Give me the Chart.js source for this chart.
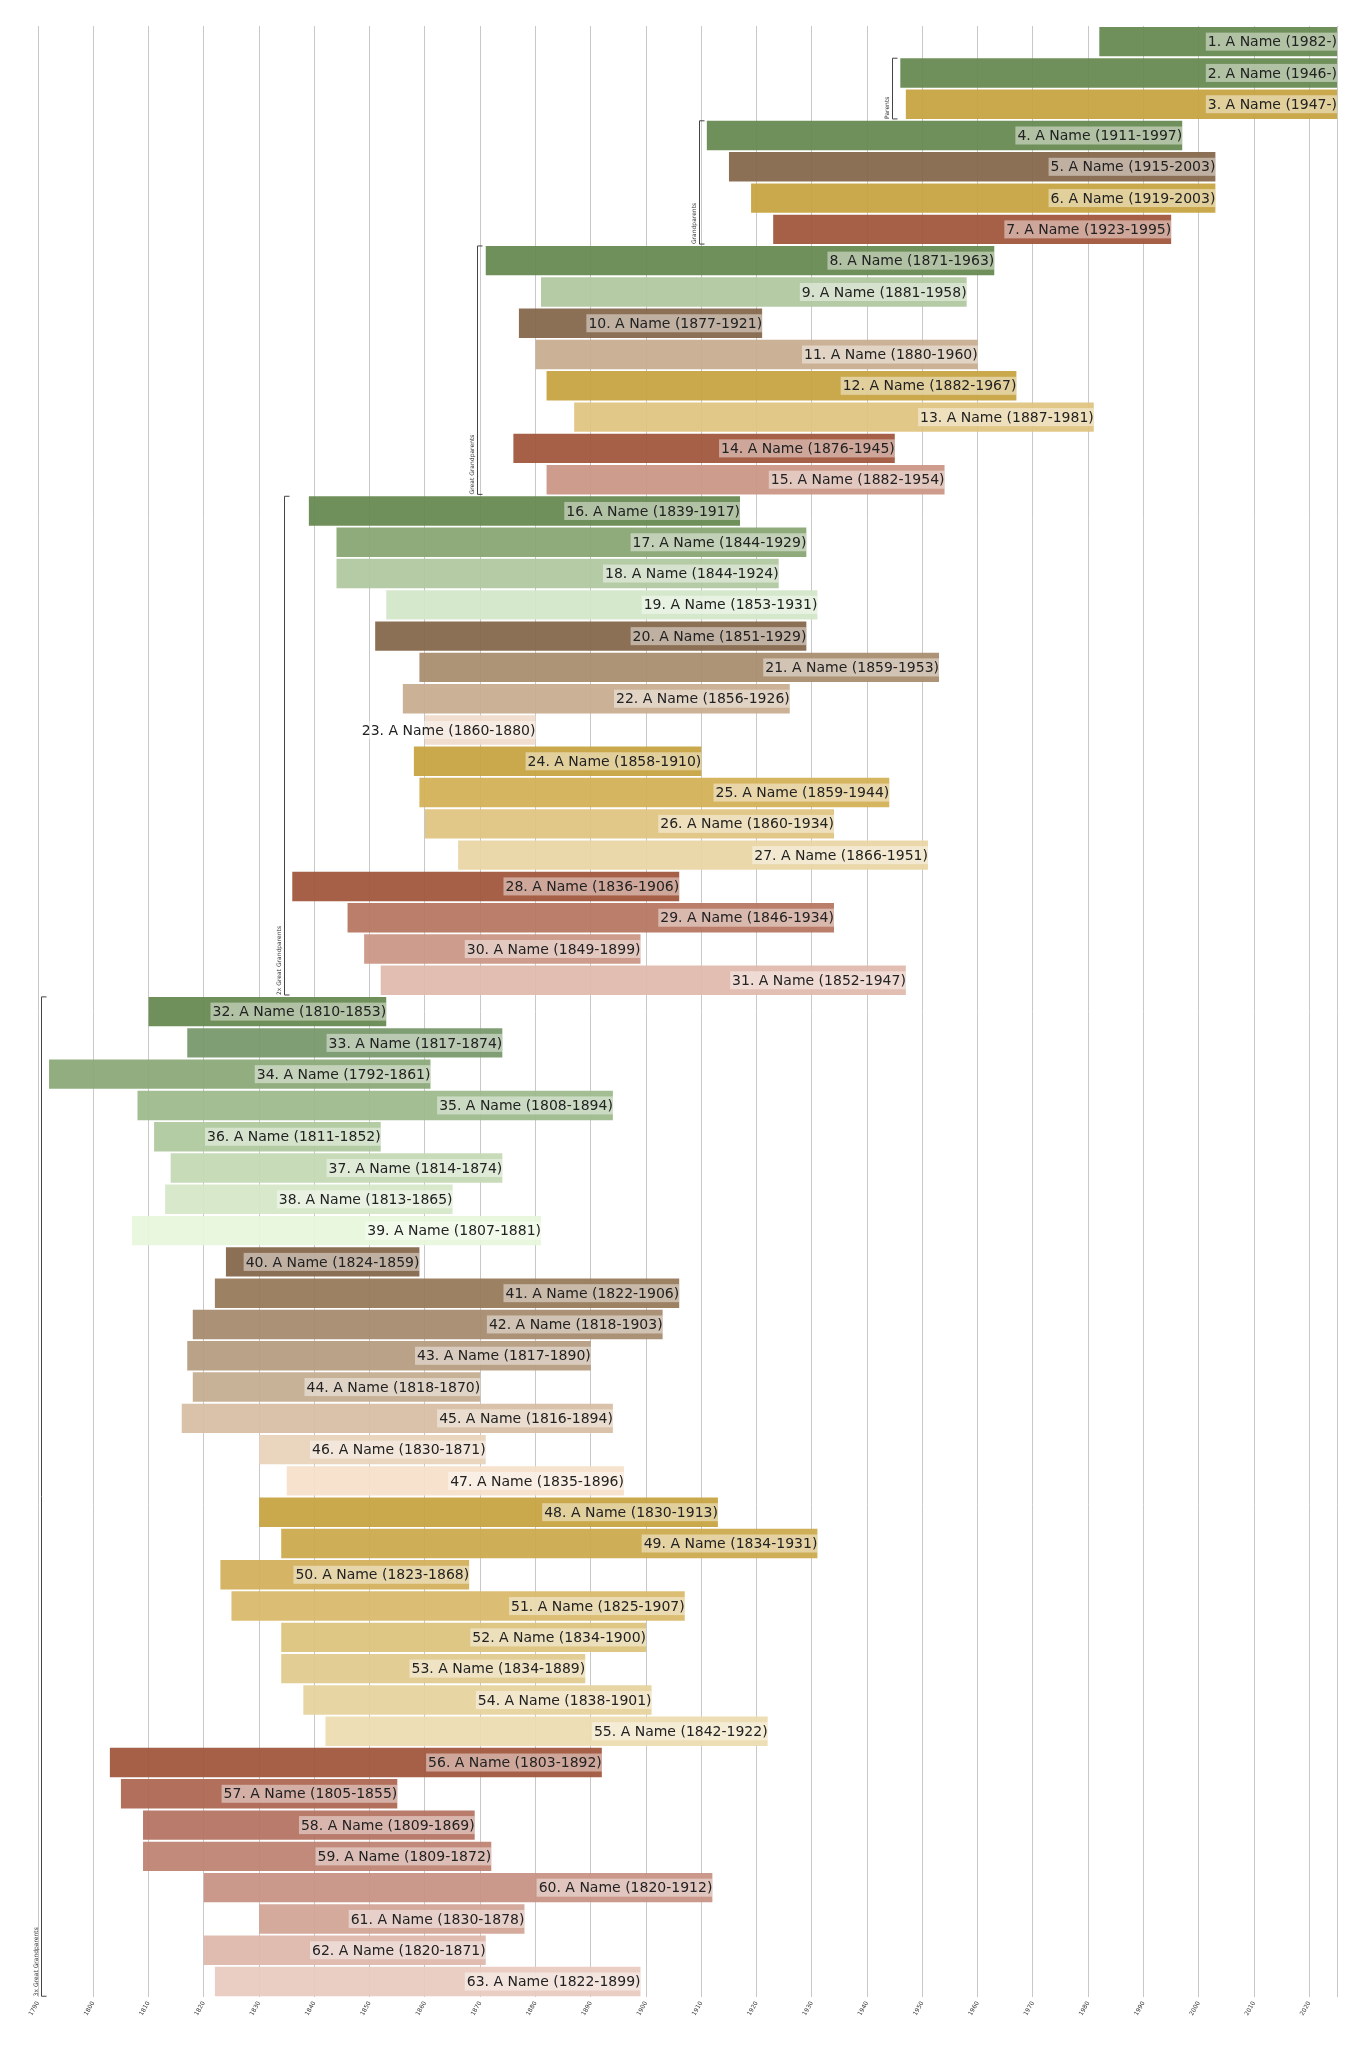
<!DOCTYPE html>
<html>
<head>
<meta charset="utf-8">
<script src="https://cdn.jsdelivr.net/npm/chart.js@4.4.1/dist/chart.umd.min.js"></script>
<style>
  body { margin: 0; background: #fff; }
  #wrap { width: 1365px; height: 2048px; }
</style>
</head>
<body>
<div id="wrap"><canvas id="tree"></canvas></div>
<script>
// Datos del árbol (año final 2025 = persona viva)
const names = ["1. A Name (1982-)", "2. A Name (1946-)", "3. A Name (1947-)", "4. A Name (1911-1997)", "5. A Name (1915-2003)", "6. A Name (1919-2003)", "7. A Name (1923-1995)", "8. A Name (1871-1963)", "9. A Name (1881-1958)", "10. A Name (1877-1921)", "11. A Name (1880-1960)", "12. A Name (1882-1967)", "13. A Name (1887-1981)", "14. A Name (1876-1945)", "15. A Name (1882-1954)", "16. A Name (1839-1917)", "17. A Name (1844-1929)", "18. A Name (1844-1924)", "19. A Name (1853-1931)", "20. A Name (1851-1929)", "21. A Name (1859-1953)", "22. A Name (1856-1926)", "23. A Name (1860-1880)", "24. A Name (1858-1910)", "25. A Name (1859-1944)", "26. A Name (1860-1934)", "27. A Name (1866-1951)", "28. A Name (1836-1906)", "29. A Name (1846-1934)", "30. A Name (1849-1899)", "31. A Name (1852-1947)", "32. A Name (1810-1853)", "33. A Name (1817-1874)", "34. A Name (1792-1861)", "35. A Name (1808-1894)", "36. A Name (1811-1852)", "37. A Name (1814-1874)", "38. A Name (1813-1865)", "39. A Name (1807-1881)", "40. A Name (1824-1859)", "41. A Name (1822-1906)", "42. A Name (1818-1903)", "43. A Name (1817-1890)", "44. A Name (1818-1870)", "45. A Name (1816-1894)", "46. A Name (1830-1871)", "47. A Name (1835-1896)", "48. A Name (1830-1913)", "49. A Name (1834-1931)", "50. A Name (1823-1868)", "51. A Name (1825-1907)", "52. A Name (1834-1900)", "53. A Name (1834-1889)", "54. A Name (1838-1901)", "55. A Name (1842-1922)", "56. A Name (1803-1892)", "57. A Name (1805-1855)", "58. A Name (1809-1869)", "59. A Name (1809-1872)", "60. A Name (1820-1912)", "61. A Name (1830-1878)", "62. A Name (1820-1871)", "63. A Name (1822-1899)"];
const births = [1982, 1946, 1947, 1911, 1915, 1919, 1923, 1871, 1881, 1877, 1880, 1882, 1887, 1876, 1882, 1839, 1844, 1844, 1853, 1851, 1859, 1856, 1860, 1858, 1859, 1860, 1866, 1836, 1846, 1849, 1852, 1810, 1817, 1792, 1808, 1811, 1814, 1813, 1807, 1824, 1822, 1818, 1817, 1818, 1816, 1830, 1835, 1830, 1834, 1823, 1825, 1834, 1834, 1838, 1842, 1803, 1805, 1809, 1809, 1820, 1830, 1820, 1822];
const deaths = [2025, 2025, 2025, 1997, 2003, 2003, 1995, 1963, 1958, 1921, 1960, 1967, 1981, 1945, 1954, 1917, 1929, 1924, 1931, 1929, 1953, 1926, 1880, 1910, 1944, 1934, 1951, 1906, 1934, 1899, 1947, 1853, 1874, 1861, 1894, 1852, 1874, 1865, 1881, 1859, 1906, 1903, 1890, 1870, 1894, 1871, 1896, 1913, 1931, 1868, 1907, 1900, 1889, 1901, 1922, 1892, 1855, 1869, 1872, 1912, 1878, 1871, 1899];
const colors = ["#66884f", "#66884f", "#c6a23f", "#66884f", "#84664a", "#c6a23f", "#a0553b", "#66884f", "#b0c79f", "#84664a", "#c7ab8d", "#c6a23f", "#dfc37f", "#a0553b", "#c99585", "#66884f", "#87a572", "#b0c79f", "#d3e6c8", "#84664a", "#a88c6d", "#c7ab8d", "#f0dccb", "#c6a23f", "#d3b056", "#dfc37f", "#e9d5a4", "#a0553b", "#b67560", "#c99585", "#e0b8ab", "#66884f", "#77976a", "#8aa878", "#9bb98a", "#afc89e", "#c3d8b3", "#d4e6c7", "#e6f6dc", "#84664a", "#957858", "#a58a6c", "#b49b80", "#c3ac91", "#d6bea3", "#e9d2ba", "#f6e0cb", "#c6a23f", "#cba84a", "#d2b05a", "#d8b96a", "#dcc27c", "#e0c98c", "#e6d29d", "#ecdcb0", "#a0553b", "#ab6550", "#b47260", "#bd8272", "#c69283", "#d1a496", "#ddb6aa", "#e8cbc0"];
// Generaciones: [etiqueta, fila inicial, fila final] (índices base 0)
const generations = [["Parents", 1, 2], ["Grandparents", 3, 6], ["Great Grandparents", 7, 14], ["2x Great Grandparents", 15, 30], ["3x Great Grandparents", 31, 62]];
const yearMin = 1790, yearMax = 2025;

const spans = births.map((b, i) => [b, deaths[i]]);

const overlayPlugin = {
    id: 'overlay',
    afterDatasetsDraw(chart) {
        const ctx = chart.ctx;
        const x = chart.scales.x;
        const meta = chart.getDatasetMeta(0);
        ctx.save();
        // Etiquetas con fondo blanco semitransparente
        ctx.font = '14px "DejaVu Sans"';
        ctx.textBaseline = 'middle';
        ctx.textAlign = 'right';
        meta.data.forEach((bar, i) => {
            const xr = x.getPixelForValue(deaths[i]);
            const w = ctx.measureText(names[i]).width;
            ctx.fillStyle = 'rgba(255,255,255,0.45)';
            ctx.fillRect(xr - w - 2, bar.y - 9, w + 2, 18);
            ctx.fillStyle = '#222';
            ctx.fillText(names[i], xr, bar.y + 1);
        });
        // Corchetes de generaciones
        ctx.strokeStyle = '#444';
        ctx.lineWidth = 1;
        generations.forEach(([label, a, b]) => {
            const minBirth = Math.min(...births.slice(a, b + 1));
            const bx = Math.round(x.getPixelForValue(minBirth - 1.5)) + 0.5;
            const top = meta.data[a].y - meta.data[a].height / 2;
            const bot = meta.data[b].y + meta.data[b].height / 2;
            ctx.beginPath();
            ctx.moveTo(bx + 5, top); ctx.lineTo(bx, top);
            ctx.lineTo(bx, bot); ctx.lineTo(bx + 5, bot);
            ctx.stroke();
            ctx.save();
            ctx.translate(bx - 2, bot);
            ctx.rotate(-Math.PI / 2);
            ctx.font = '6px "DejaVu Sans"';
            ctx.fillStyle = '#333';
            ctx.textAlign = 'left';
            ctx.textBaseline = 'bottom';
            ctx.fillText(label, 0, 0);
            ctx.restore();
        });
        ctx.restore();
    }
};

const ctx = document.getElementById('tree').getContext('2d');
new Chart(ctx, {
    type: 'bar',
    data: {
        labels: names,
        datasets: [{
            data: spans,
            backgroundColor: colors.map(c => c + 'ee'),
            borderWidth: 0,
            borderSkipped: false,
            barPercentage: 0.94,
            categoryPercentage: 1.0
        }]
    },
    options: {
        indexAxis: 'y',
        responsive: true,
        maintainAspectRatio: false,
        animation: false,
        layout: { padding: { top: 26, left: 30, right: 28, bottom: 28 } },
        scales: {
            x: {
                type: 'linear',
                min: yearMin,
                max: yearMax,
                ticks: {
                    stepSize: 10,
                    maxRotation: 60,
                    minRotation: 60,
                    font: { size: 6, family: 'DejaVu Sans' },
                    color: '#333',
                    callback: v => v <= 2020 ? String(v) : ''
                },
                grid: { color: '#c8c8c8', drawTicks: false },
                border: { display: false }
            },
            y: {
                ticks: { display: false },
                grid: { display: false },
                border: { display: false }
            }
        },
        plugins: {
            legend: { display: false },
            tooltip: { enabled: false }
        }
    },
    plugins: [overlayPlugin]
});
</script>
</body>
</html>
